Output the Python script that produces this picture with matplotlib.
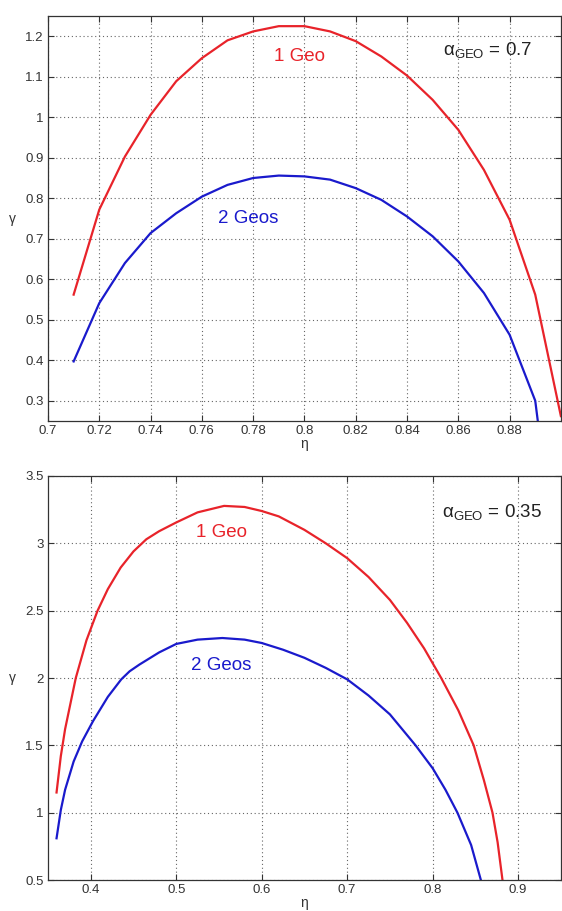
import matplotlib
matplotlib.use('Agg')
import matplotlib.pyplot as plt
from matplotlib.ticker import FuncFormatter
import numpy as np

plt.rcParams['font.family'] = ['Liberation Sans', 'DejaVu Sans']

# alpha_GEO = 0.7
eta_top = [0.71, 0.72, 0.73, 0.74, 0.75, 0.76, 0.77, 0.78, 0.79, 0.80,
           0.81, 0.82, 0.83, 0.84, 0.85, 0.86, 0.87, 0.88, 0.89, 0.90]
geo1_top = [0.562, 0.772, 0.903, 1.006, 1.089, 1.146, 1.19, 1.212, 1.225, 1.225,
            1.212, 1.188, 1.15, 1.103, 1.043, 0.969, 0.87, 0.747, 0.562, 0.262]
geo2_top = [0.397, 0.541, 0.64, 0.714, 0.763, 0.804, 0.833, 0.85, 0.856, 0.854,
            0.846, 0.825, 0.796, 0.755, 0.706, 0.644, 0.566, 0.463, 0.30, -0.2]

# alpha_GEO = 0.35
eta_bot1 = [0.36, 0.365, 0.37, 0.3825, 0.395, 0.408, 0.42, 0.435, 0.45, 0.465,
            0.48, 0.50, 0.525, 0.556, 0.58, 0.60, 0.62, 0.65, 0.675, 0.70,
            0.725, 0.75, 0.77, 0.79, 0.81, 0.83, 0.848, 0.86, 0.870, 0.876,
            0.8817]
geo1_bot = [1.15, 1.42, 1.62, 2.0, 2.28, 2.5, 2.66, 2.82, 2.94, 3.03,
            3.09, 3.155, 3.23, 3.278, 3.27, 3.24, 3.2, 3.1, 3.0, 2.89,
            2.75, 2.58, 2.41, 2.22, 2.0, 1.76, 1.5, 1.24, 1.0, 0.78,
            0.5]
eta_bot2 = [0.36, 0.365, 0.37, 0.38, 0.39, 0.4027, 0.42, 0.4357, 0.4455, 0.457,
            0.48, 0.50, 0.525, 0.554, 0.58, 0.60, 0.625, 0.65, 0.675, 0.70,
            0.725, 0.75, 0.78, 0.80, 0.815, 0.829, 0.845, 0.8564]
geo2_bot = [0.81, 1.02, 1.17, 1.38, 1.53, 1.68, 1.86, 1.99, 2.05, 2.10,
            2.19, 2.253, 2.285, 2.297, 2.285, 2.26, 2.21, 2.15, 2.075, 1.99,
            1.87, 1.73, 1.5, 1.33, 1.17, 1.0, 0.76, 0.5]

red = '#e8232a'
blue = '#1a1acc'
fmt = FuncFormatter(lambda v, p: '%g' % round(v, 4))

fig = plt.figure(figsize=(5.62, 9.11), dpi=100)
ax1 = fig.add_axes([0.0854, 0.5379, 0.9126, 0.4445])
ax2 = fig.add_axes([0.0854, 0.034, 0.9126, 0.4435])


def style(ax):
    ax.grid(True, linestyle=(0, (1, 2.5)), color='#666666', linewidth=0.8)
    ax.tick_params(direction='in', top=True, right=True, length=4,
                   labelsize=9.5, colors='#333333', pad=3)
    for s in ax.spines.values():
        s.set_color('#333333')
        s.set_linewidth(0.9)
    ax.xaxis.set_major_formatter(fmt)
    ax.yaxis.set_major_formatter(fmt)
    ax.set_xlabel('η', fontsize=10, labelpad=0, color='#333333')
    ax.set_ylabel('γ', fontsize=10, rotation=0, labelpad=9, color='#333333',
                  va='center')


ax1.plot(eta_top, geo1_top, color=red, lw=1.6)
ax1.plot(eta_top, geo2_top, color=blue, lw=1.6)
ax1.set_xlim(0.7, 0.9)
ax1.set_ylim(0.25, 1.25)
ax1.set_xticks(np.arange(0.70, 0.8801, 0.02))
ax1.set_yticks(np.arange(0.3, 1.2001, 0.1))
style(ax1)
ax1.text(0.798, 1.15, '1 Geo', color=red, fontsize=13.5, ha='center', va='center')
ax1.text(0.778, 0.751, '2 Geos', color=blue, fontsize=13.5, ha='center', va='center')
ax1.text(0.854, 1.163, r'α$_{\mathregular{GEO}}$ = 0.7', color='#222222',
         fontsize=13.5, ha='left', va='center')

ax2.plot(eta_bot1, geo1_bot, color=red, lw=1.6)
ax2.plot(eta_bot2, geo2_bot, color=blue, lw=1.6)
ax2.set_xlim(0.35, 0.95)
ax2.set_ylim(0.5, 3.5)
ax2.set_xticks(np.arange(0.4, 0.901, 0.1))
ax2.set_yticks(np.arange(0.5, 3.501, 0.5))
style(ax2)
ax2.text(0.553, 3.08, '1 Geo', color=red, fontsize=13.5, ha='center', va='center')
ax2.text(0.553, 2.09, '2 Geos', color=blue, fontsize=13.5, ha='center', va='center')
ax2.text(0.811, 3.23, r'α$_{\mathregular{GEO}}$ = 0.35', color='#222222',
         fontsize=13.5, ha='left', va='center')

fig.savefig('out.png', dpi=100)
